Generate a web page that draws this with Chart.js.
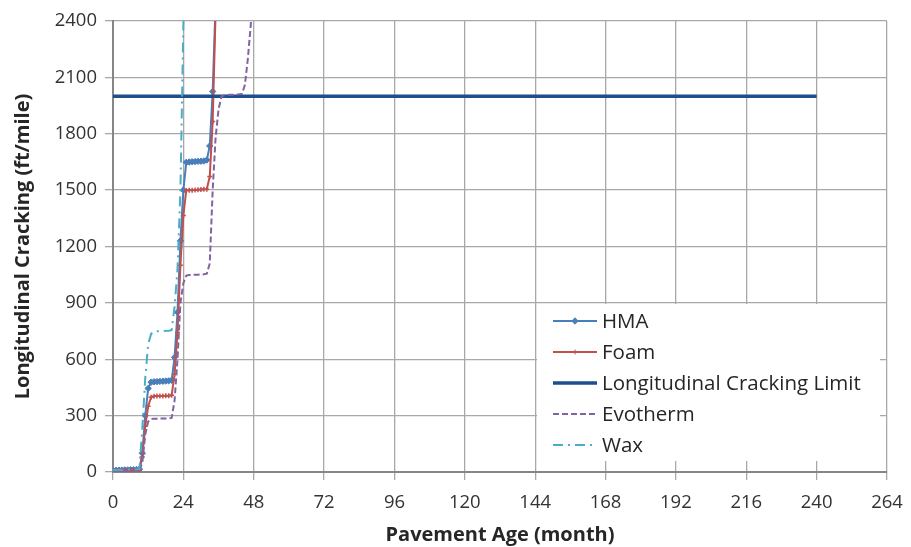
<!DOCTYPE html>
<html>
<head>
<meta charset="utf-8">
<title>Longitudinal Cracking</title>
<script src="https://cdn.jsdelivr.net/npm/chart.js"></script>
<style>
  html, body { margin: 0; padding: 0; background: #fff; }
  #wrap { width: 911px; height: 547px; }
</style>
</head>
<body>
<div id="wrap"><canvas id="crackChart" width="911" height="547"></canvas></div>
<script>
// predicted longitudinal cracking (ft/mile), one value per month starting at month 0
const hmaCracking = [8, 9, 10, 10, 11, 11, 12, 12, 13, 15, 100, 300, 445, 478, 480, 481, 482, 483, 484, 485, 488,
  610, 850, 1230, 1500, 1648, 1650, 1651, 1652, 1653, 1654, 1655, 1660, 1735, 2025, 2500, 3000];
const foamCracking = [5, 5, 6, 6, 7, 7, 8, 8, 9, 10, 80, 243, 350, 398, 403, 404, 405, 405, 406, 406, 408,
  520, 742, 1100, 1365, 1498, 1500, 1500, 1501, 1502, 1503, 1504, 1505, 1573, 1865, 2450, 2900];
const evothermCracking = [3, 3, 4, 4, 4, 5, 5, 5, 6, 6, 50, 200, 268, 282, 284, 284, 285, 285, 285, 286, 288,
  380, 600, 900, 1005, 1045, 1048, 1049, 1050, 1050, 1051, 1052, 1055, 1110, 1500, 1780, 1930, 1998,
  2005, 2006, 2007, 2008, 2009, 2010, 2012, 2060, 2200, 2380, 2650];
const waxCracking = [10, 10, 11, 11, 12, 12, 13, 13, 14, 15, 230, 500, 680, 735, 748, 749, 750, 750, 751, 752, 755,
  880, 1080, 1500, 2380, 3000];
const limitMonths = [0, 240];
const limitCracking = [2000, 2000];

const ageTicks = [0, 24, 48, 72, 96, 120, 144, 168, 192, 216, 240, 264];
const crackTicks = [0, 300, 600, 900, 1200, 1500, 1800, 2100, 2400];

const byMonth = vals => vals.map((v, m) => ({ x: m, y: v }));

// legend drawn inside the plot, over a white box
const legendBox = {
  id: 'legendBox',
  afterDatasetsDraw(chart) {
    const ctx = chart.ctx;
    ctx.save();
    ctx.fillStyle = '#ffffff';
    ctx.fillRect(537, 304, 343, 157);
    chart.data.datasets.forEach((ds, i) => {
      const y = 321 + i * 31;
      ctx.strokeStyle = ds.borderColor;
      ctx.lineWidth = ds.borderWidth;
      ctx.setLineDash(ds.borderDash || []);
      ctx.beginPath();
      ctx.moveTo(553, y);
      ctx.lineTo(597, y);
      ctx.stroke();
      ctx.setLineDash([]);
      if (ds.pointRadius) {
        ctx.fillStyle = ds.borderColor;
        ctx.lineWidth = 1;
        Chart.helpers.drawPoint(ctx, { pointStyle: ds.pointStyle, radius: ds.pointRadius, borderWidth: 1, rotation: 0 }, 575, y);
      }
      ctx.fillStyle = '#262626';
      ctx.font = '20.5px "Open Sans"';
      ctx.textAlign = 'left';
      ctx.textBaseline = 'middle';
      ctx.fillText(ds.label, 602, y + 1);
    });
    ctx.restore();
  }
};

const gridGray = '#a8a8a8';
const axisGray = '#868686';
const tickFont = { family: 'Open Sans', size: 18.5 };
const titleFont = { family: 'Open Sans', size: 20, weight: 'bold' };

new Chart(document.getElementById('crackChart'), {
  type: 'line',
  data: {
    datasets: [
      {
        label: 'HMA',
        data: byMonth(hmaCracking),
        borderColor: '#4a7ebb',
        backgroundColor: '#4a7ebb',
        borderWidth: 2,
        pointStyle: 'rectRot',
        pointRadius: 3.2,
        pointBorderWidth: 1,
        order: 5
      },
      {
        label: 'Foam',
        data: byMonth(foamCracking),
        borderColor: '#c0504d',
        backgroundColor: '#c0504d',
        borderWidth: 2,
        pointStyle: 'cross',
        pointRadius: 2.5,
        pointBorderWidth: 1.5,
        order: 4
      },
      {
        label: 'Longitudinal Cracking Limit',
        data: limitMonths.map((m, i) => ({ x: m, y: limitCracking[i] })),
        borderColor: '#1f4e8c',
        backgroundColor: '#1f4e8c',
        borderWidth: 3.5,
        pointRadius: 0,
        order: 3
      },
      {
        label: 'Evotherm',
        data: byMonth(evothermCracking),
        borderColor: '#8064a2',
        backgroundColor: '#8064a2',
        borderWidth: 2,
        borderDash: [6, 3],
        pointRadius: 0,
        order: 2
      },
      {
        label: 'Wax',
        data: byMonth(waxCracking),
        borderColor: '#4bacc6',
        backgroundColor: '#4bacc6',
        borderWidth: 2,
        borderDash: [10, 5, 2, 5],
        pointRadius: 0,
        order: 1
      }
    ]
  },
  options: {
    responsive: false,
    animation: false,
    layout: { autoPadding: false, padding: { top: 21, right: 24, left: 0, bottom: 0 } },
    plugins: {
      legend: { display: false },
      tooltip: { enabled: false }
    },
    elements: { line: { tension: 0 } },
    scales: {
      x: {
        type: 'linear',
        min: 0,
        max: 264,
        afterFit: s => {
          s.height = 75;
          // end labels fit inside the page margin already
          s.paddingLeft = 0;
          s.paddingRight = 0;
        },
        afterBuildTicks: s => { s.ticks = ageTicks.map(v => ({ value: v })); },
        ticks: { color: '#333', font: tickFont, padding: 12, maxRotation: 0, callback: v => String(v) },
        grid: { color: gridGray, lineWidth: 1.3, tickLength: 8, tickColor: gridGray },
        border: { color: axisGray, width: 2 },
        title: {
          display: true,
          text: 'Pavement Age (month)',
          color: '#262626',
          font: titleFont,
          padding: { top: 0, bottom: 0 }
        }
      },
      y: {
        min: 0,
        max: 2400,
        afterFit: s => { s.width = 113; },
        afterBuildTicks: s => { s.ticks = crackTicks.map(v => ({ value: v })); },
        ticks: { color: '#333', font: tickFont, padding: 8, callback: v => String(v) },
        grid: { color: gridGray, lineWidth: 1.3, tickLength: 8, tickColor: gridGray },
        border: { color: axisGray, width: 2 },
        title: {
          display: true,
          text: 'Longitudinal Cracking (ft/mile)',
          color: '#262626',
          font: titleFont,
          padding: { top: 11, bottom: 0 }
        }
      }
    }
  },
  plugins: [legendBox]
});
</script>
</body>
</html>
